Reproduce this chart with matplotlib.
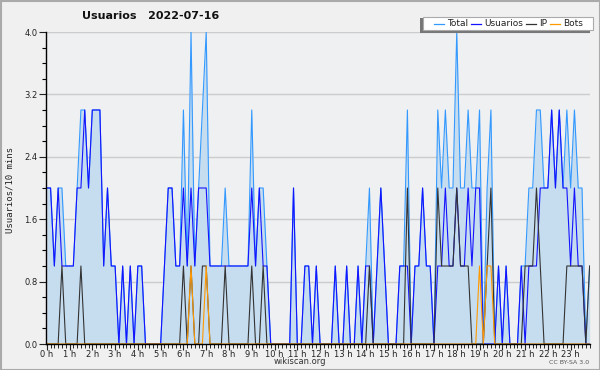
import matplotlib
matplotlib.use("Agg")
import matplotlib.pyplot as plt
import numpy as np
from matplotlib.patches import Rectangle
from matplotlib.lines import Line2D

# 10-minute slots over the day, 144 values per series
total = [2, 2, 1, 2, 2, 1, 1, 1, 2, 3, 3, 2, 3, 3, 3, 1, 2, 1, 1, 0, 1, 0, 1, 0,
         1, 1, 0, 0, 0, 0, 0, 1, 2, 2, 1, 1, 3, 1, 4, 1, 2, 3, 4, 1, 1, 1, 1, 2,
         1, 1, 1, 1, 1, 1, 3, 1, 2, 2, 1, 0, 0, 0, 0, 0, 0, 2, 0, 0, 1, 1, 0, 1,
         0, 0, 0, 0, 1, 0, 0, 1, 0, 0, 1, 0, 1, 2, 0, 1, 2, 1, 0, 0, 0, 1, 1, 3,
         0, 1, 1, 2, 1, 1, 0, 3, 2, 3, 2, 2, 4, 2, 2, 3, 2, 2, 3, 0, 2, 3, 0, 1,
         0, 1, 0, 0, 0, 1, 1, 2, 2, 3, 3, 2, 2, 3, 2, 3, 2, 3, 2, 3, 2, 2, 0, 1]
usuarios = [2, 2, 1, 2, 1, 1, 1, 1, 2, 2, 3, 2, 3, 3, 3, 1, 2, 1, 1, 0, 1, 0, 1, 0,
            1, 1, 0, 0, 0, 0, 0, 1, 2, 2, 1, 1, 2, 1, 2, 1, 2, 2, 2, 1, 1, 1, 1, 1,
            1, 1, 1, 1, 1, 1, 2, 1, 2, 1, 1, 0, 0, 0, 0, 0, 0, 2, 0, 0, 1, 1, 0, 1,
            0, 0, 0, 0, 1, 0, 0, 1, 0, 0, 1, 0, 1, 1, 0, 1, 2, 1, 0, 0, 0, 1, 1, 1,
            0, 1, 1, 2, 1, 1, 0, 1, 1, 2, 1, 1, 2, 1, 1, 2, 1, 2, 2, 0, 0, 0, 0, 1,
            0, 1, 0, 0, 0, 1, 0, 1, 1, 1, 2, 2, 2, 3, 2, 3, 2, 2, 1, 2, 1, 1, 0, 0]
ip = [0, 0, 0, 0, 1, 0, 0, 0, 0, 1, 0, 0, 0, 0, 0, 0, 0, 0, 0, 0, 0, 0, 0, 0,
      0, 0, 0, 0, 0, 0, 0, 0, 0, 0, 0, 0, 1, 0, 1, 0, 0, 1, 1, 0, 0, 0, 0, 1,
      0, 0, 0, 0, 0, 0, 1, 0, 0, 1, 0, 0, 0, 0, 0, 0, 0, 0, 0, 0, 0, 0, 0, 0,
      0, 0, 0, 0, 0, 0, 0, 0, 0, 0, 0, 0, 0, 1, 0, 0, 0, 0, 0, 0, 0, 0, 0, 2,
      0, 0, 0, 0, 0, 0, 0, 2, 1, 1, 1, 1, 2, 1, 1, 1, 0, 0, 0, 0, 1, 2, 0, 0,
      0, 0, 0, 0, 0, 0, 1, 1, 1, 2, 1, 0, 0, 0, 0, 0, 0, 1, 1, 1, 1, 1, 0, 1]
bots = [0] * 144
for k in (38, 42, 114, 116, 117):
    bots[k] = 1

hour_labels = [f"{h} h" for h in range(24)]

fig = plt.figure(figsize=(6, 3.7), dpi=100, facecolor="#f0f0f0")
ax = fig.add_axes([46 / 600, 26 / 370, 544 / 600, 312 / 370])
ax.set_facecolor("#eef0f2")

x = np.arange(len(total))
ax.fill_between(x, total, color="#c6ddf0", lw=0)
ax.plot(x, total, color="#3399ff", lw=0.8)
ax.plot(x, usuarios, color="#1414ff", lw=0.8)
ax.plot(x, ip, color="#333333", lw=0.8)
ax.plot(x, bots, color="#ff9900", lw=0.8)

ax.set_xlim(-0.2, 143.1)
ax.set_ylim(0, 4.0)

ax.set_yticks(np.arange(0, 4.01, 0.8))
ax.set_yticklabels([f"{v:.1f}" for v in np.arange(0, 4.01, 0.8)])
ax.set_yticks(np.arange(0, 4.01, 0.2), minor=True)
ax.set_xticks(np.arange(0, 144, 6))
ax.set_xticklabels(hour_labels)
ax.set_xticks(np.arange(0, 144, 1), minor=True)

ax.yaxis.grid(True, which="major", color="#cccccc", lw=1.0)
ax.set_axisbelow(True)
for s in ("top", "right"):
    ax.spines[s].set_visible(False)
for s in ("left", "bottom"):
    ax.spines[s].set_color("black")
    ax.spines[s].set_linewidth(1.0)

ax.tick_params(axis="y", which="major", length=5, width=0.8, labelsize=6, pad=1, colors="#222222")
ax.tick_params(axis="y", which="minor", length=3, width=0.8)
ax.tick_params(axis="x", which="major", length=4, width=0.8, labelsize=6, pad=0, colors="#222222")
ax.tick_params(axis="x", which="minor", length=3, width=0.6)

fig.text(151 / 600, 1 - 16 / 370, "Usuarios   2022-07-16", ha="center", va="center",
         fontsize=8, fontweight="bold", color="#111111")
fig.text(10 / 600, 1 - 190 / 370, "Usuarios/10 mins", rotation=90, ha="center", va="center",
         fontsize=6.5, family="DejaVu Sans Mono", color="#222222")
fig.text(300 / 600, 1 - 362 / 370, "wikiscan.org", ha="center", va="center",
         fontsize=6, color="#333333")
fig.text(589 / 600, 1 - 362 / 370, "CC BY-SA 3.0", ha="right", va="center",
         fontsize=4.5, color="#555555")

# legend box with shadow on lower-left
W, H = 600, 370
fig.patches.append(Rectangle((420 / W, 1 - 33 / H), 170 / W, 15 / H, transform=fig.transFigure,
                             facecolor="#777777", edgecolor="none", zorder=5))
fig.patches.append(Rectangle((423 / W, 1 - 30 / H), 170 / W, 13 / H, transform=fig.transFigure,
                             facecolor="white", edgecolor="#aaaaaa", lw=0.8, zorder=6))
entries = [("Total", "#3399ff", 434), ("Usuarios", "#1414ff", 471),
           ("IP", "#333333", 526), ("Bots", "#ff9900", 550)]
for name, col, lx in entries:
    fig.lines.append(Line2D([lx / W, (lx + 10) / W], [1 - 23.5 / H, 1 - 23.5 / H],
                            transform=fig.transFigure, color=col, lw=0.9, zorder=7))
    fig.text((lx + 13) / W, 1 - 23.5 / H, name, ha="left", va="center", fontsize=6.5,
             color="#222222", zorder=7)

# outer border
fig.patches.append(Rectangle((0.5 / W, 0.5 / H), 1 - 1 / W, 1 - 1 / H, transform=fig.transFigure,
                             facecolor="none", edgecolor="#aaaaaa", lw=1.5, zorder=10))

fig.savefig("out.png", dpi=100, facecolor=fig.get_facecolor())
